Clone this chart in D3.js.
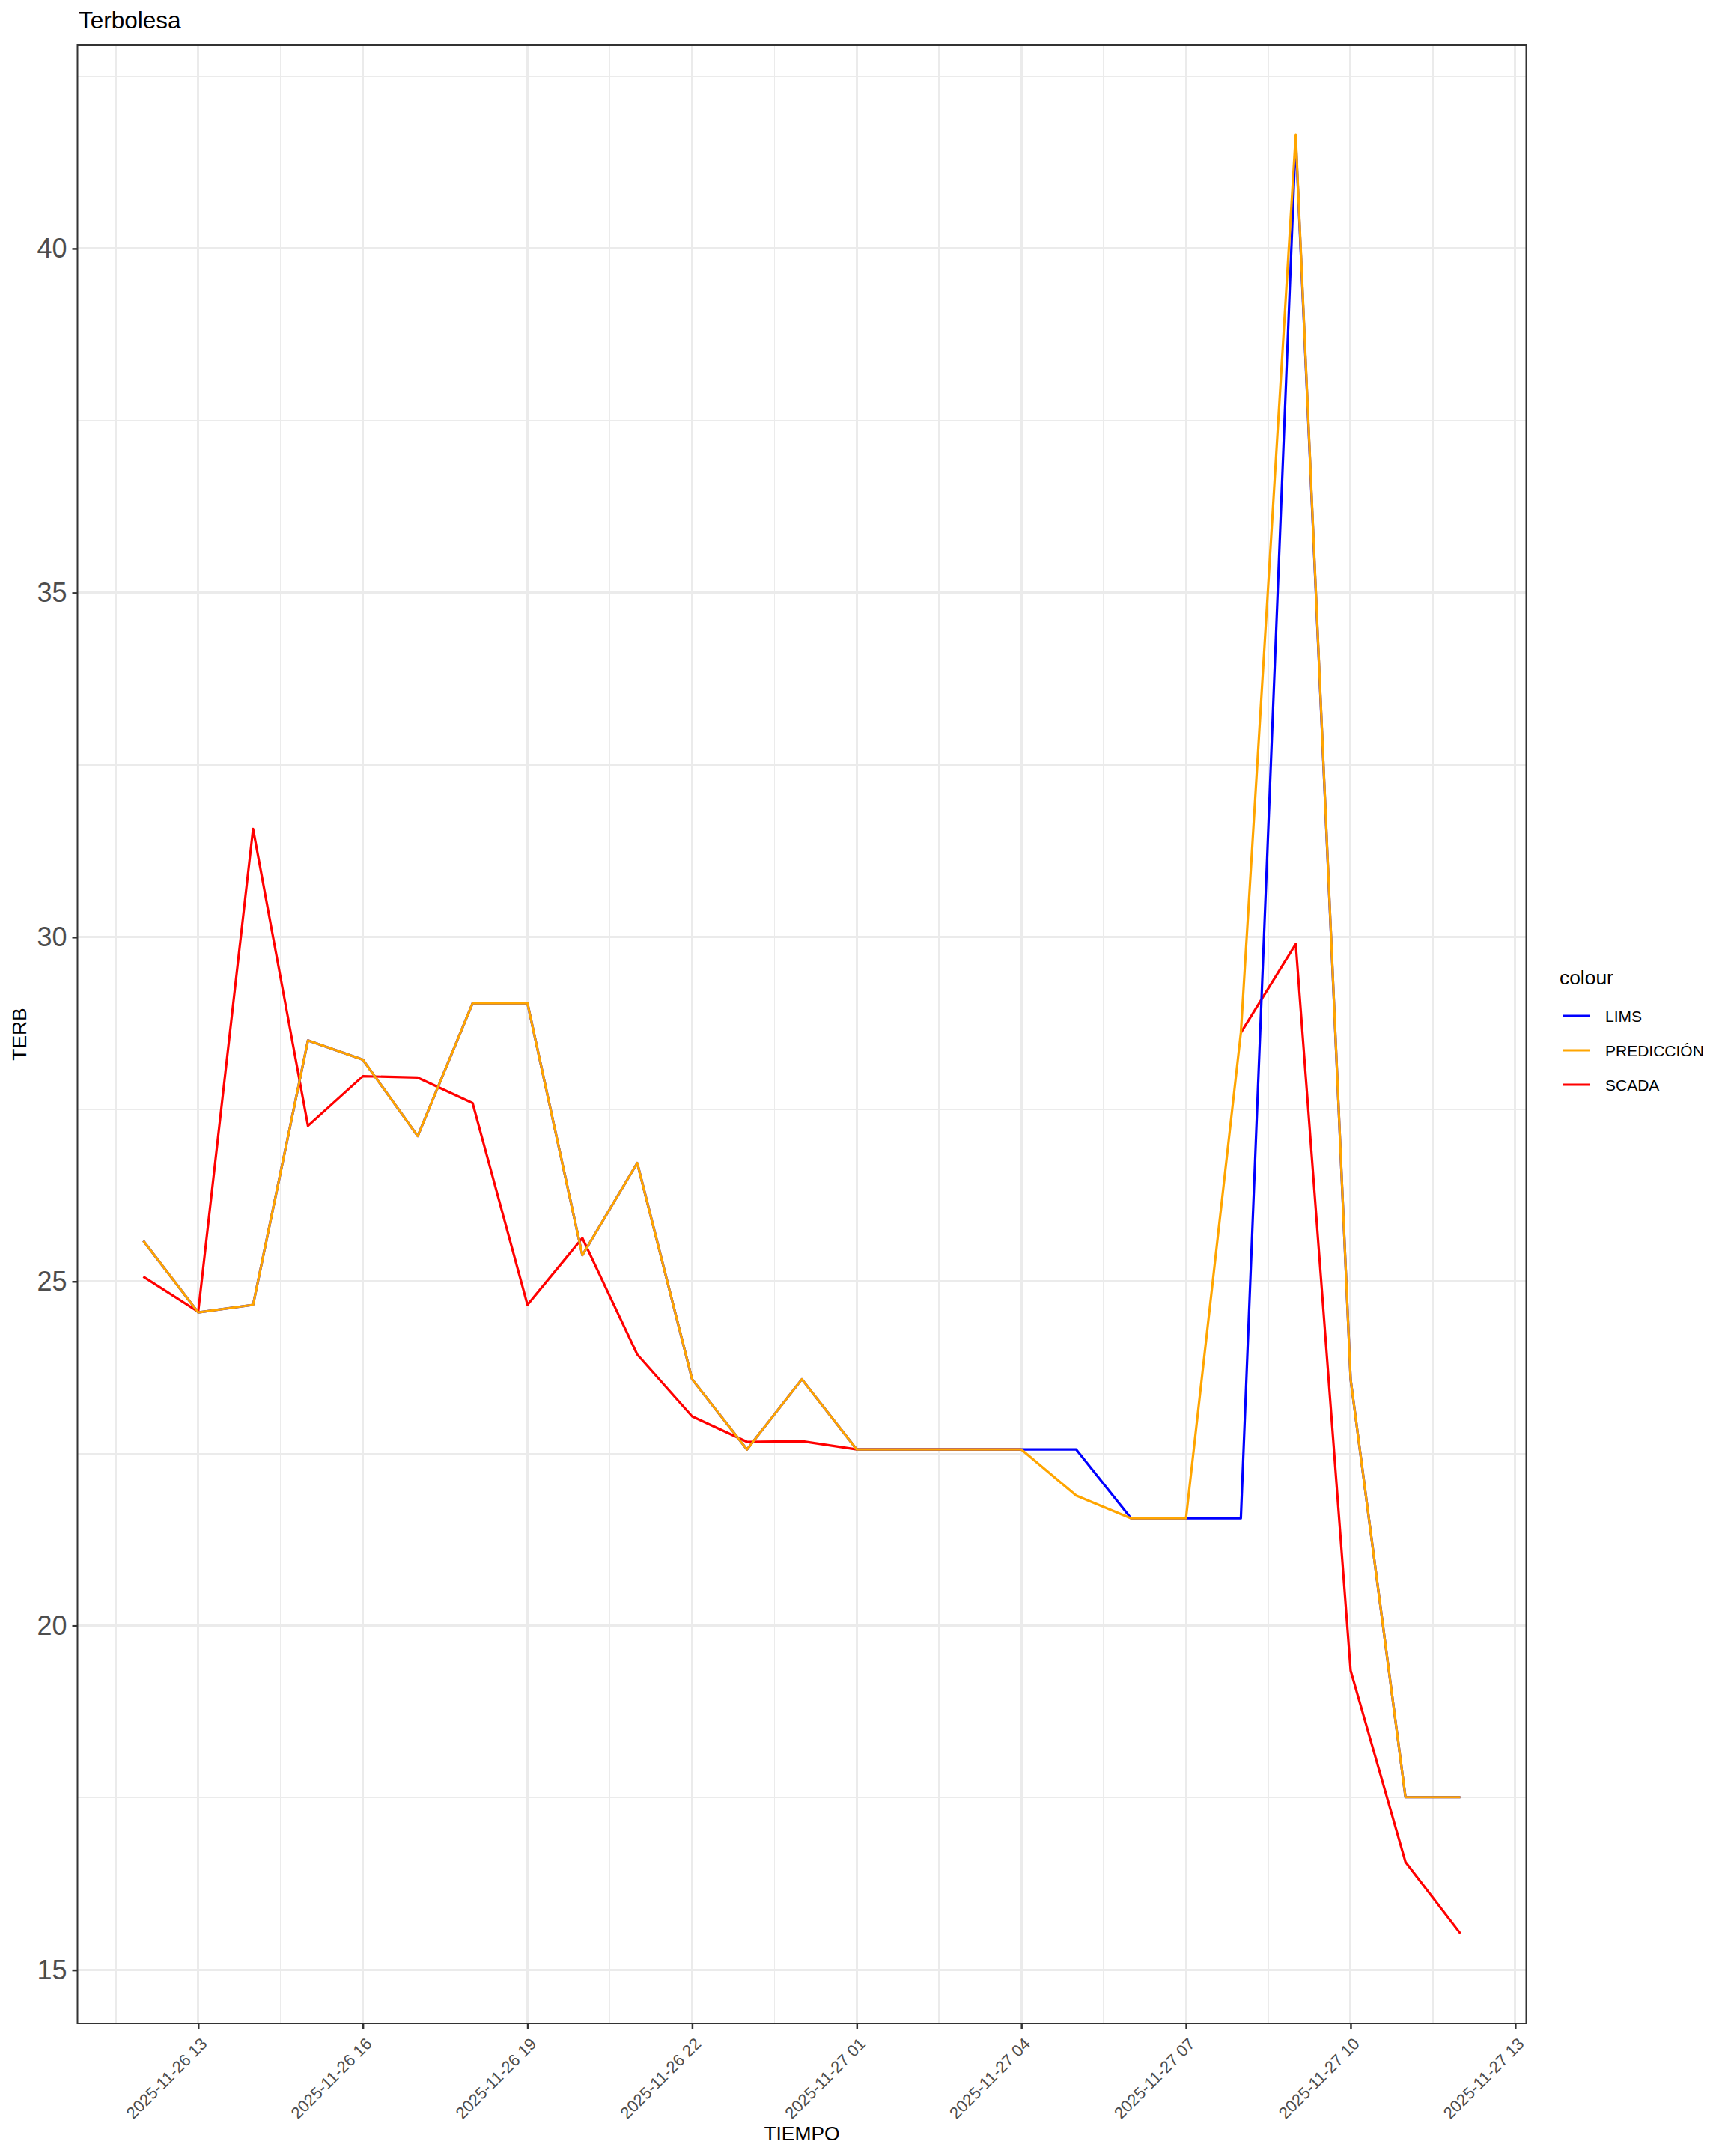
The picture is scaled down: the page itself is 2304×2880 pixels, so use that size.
<!DOCTYPE html>
<html>
<head>
  <title>Terbolesa</title>
  <style>
  body {
    margin: 0;
    background: #fff;
    font-family: "Liberation Sans", Arial, Helvetica, sans-serif;
  }

  .grid-major line {
    stroke: #ebebeb;
    stroke-width: 3;
    shape-rendering: crispedges;
  }

  .grid-minor line {
    stroke: #ebebeb;
    stroke-width: 1.6;
    shape-rendering: crispedges;
  }

  .axis .domain {
    display: none;
  }

  .axis .tick line {
    stroke: #333;
    stroke-width: 2.5;
  }

  .axis .tick text {
    fill: #4d4d4d;
  }

  .border {
    fill: none;
    stroke: #333;
    stroke-width: 2;
  }

  .series {
    fill: none;
    stroke-width: 3.2;
    stroke-linejoin: round;
  }
  </style>
  <script src="https://d3js.org/d3.v7.min.js"></script>
</head>
<body>
<div id="container"></div>
<script>
// hourly readings, 2025-11-26 12:00 -> 2025-11-27 12:00
var times = [
  "2025-11-26 12:00", "2025-11-26 13:00", "2025-11-26 14:00", "2025-11-26 15:00",
  "2025-11-26 16:00", "2025-11-26 17:00", "2025-11-26 18:00", "2025-11-26 19:00",
  "2025-11-26 20:00", "2025-11-26 21:00", "2025-11-26 22:00", "2025-11-26 23:00",
  "2025-11-27 00:00", "2025-11-27 01:00", "2025-11-27 02:00", "2025-11-27 03:00",
  "2025-11-27 04:00", "2025-11-27 05:00", "2025-11-27 06:00", "2025-11-27 07:00",
  "2025-11-27 08:00", "2025-11-27 09:00", "2025-11-27 10:00", "2025-11-27 11:00",
  "2025-11-27 12:00"
]

var scada = [25.07, 24.56, 31.57, 27.26, 27.98, 27.96, 27.59, 24.66, 25.63, 23.94, 23.04, 22.67,
             22.68, 22.56, 22.56, 22.56, 22.56, null, null, null, 28.61, 29.90, 19.35, 16.57, 15.53]

var lims = [25.59, 24.55, 24.66, 28.50, 28.22, 27.11, 29.04, 29.04, 25.38, 26.72, 23.58, 22.56,
            23.58, 22.56, 22.56, 22.56, 22.56, 22.56, 21.56, 21.56, 21.56, 41.60, 23.58, 17.51, 17.51]

var prediccion = [25.59, 24.55, 24.66, 28.50, 28.22, 27.11, 29.04, 29.04, 25.38, 26.72, 23.58, 22.56,
                  23.58, 22.56, 22.56, 22.56, 22.56, 21.89, 21.56, 21.56, 28.61, 41.65, 23.58, 17.51, 17.51]

var xTicks = ["2025-11-26 13", "2025-11-26 16", "2025-11-26 19", "2025-11-26 22", "2025-11-27 01",
              "2025-11-27 04", "2025-11-27 07", "2025-11-27 10", "2025-11-27 13"]
var yTicks = [15, 20, 25, 30, 35, 40]

var seriesNames = ["LIMS", "PREDICCIÓN", "SCADA"]
var seriesColors = { "LIMS": "blue", "PREDICCIÓN": "orange", "SCADA": "red" }

var W = 2304, H = 2880
var panel = { left: 103.5, right: 2038.5, top: 60, bottom: 2703 }

var parseT = d3.timeParse("%Y-%m-%d %H:%M"),
    parseTick = d3.timeParse("%Y-%m-%d %H"),
    fmtTick = d3.timeFormat("%Y-%m-%d %H")

var t = times.map(parseT)

function toPoints(vals) {
  return vals.map(function(v, i) { return { t: t[i], v: v } })
}

var data = {
  "SCADA": toPoints(scada),
  "LIMS": toPoints(lims),
  "PREDICCIÓN": toPoints(prediccion)
}

// ggplot-style 5% expansion
var tExt = d3.extent(t),
    tPad = (tExt[1] - tExt[0]) * 0.05,
    allV = scada.concat(lims, prediccion).filter(function(v) { return v != null }),
    vExt = d3.extent(allV),
    vPad = (vExt[1] - vExt[0]) * 0.05

var x = d3.scaleTime()
  .domain([new Date(+tExt[0] - tPad), new Date(+tExt[1] + tPad)])
  .range([panel.left, panel.right])

var y = d3.scaleLinear()
  .domain([vExt[0] - vPad, vExt[1] + vPad])
  .range([panel.bottom, panel.top])

var xMajor = xTicks.map(parseTick)
var xMinor = xMajor.map(function(d) { return new Date(+d - 1.5 * 3600e3) })
  .filter(function(d) { return d >= x.domain()[0] && d <= x.domain()[1] })
var yMinor = yTicks.map(function(d) { return d + 2.5 })
  .filter(function(d) { return d >= y.domain()[0] && d <= y.domain()[1] })

var svg = d3.select("#container").append("svg")
  .attr("width", W)
  .attr("height", H)

svg.append("rect").attr("width", W).attr("height", H).attr("fill", "#fff")

// grid
var gMinor = svg.append("g").attr("class", "grid-minor")
gMinor.selectAll(".gx").data(xMinor).enter().append("line")
  .attr("x1", function(d) { return x(d) }).attr("x2", function(d) { return x(d) })
  .attr("y1", panel.top).attr("y2", panel.bottom)
gMinor.selectAll(".gy").data(yMinor).enter().append("line")
  .attr("x1", panel.left).attr("x2", panel.right)
  .attr("y1", function(d) { return y(d) }).attr("y2", function(d) { return y(d) })

var gMajor = svg.append("g").attr("class", "grid-major")
gMajor.selectAll(".gx").data(xMajor).enter().append("line")
  .attr("x1", function(d) { return x(d) }).attr("x2", function(d) { return x(d) })
  .attr("y1", panel.top).attr("y2", panel.bottom)
gMajor.selectAll(".gy").data(yTicks).enter().append("line")
  .attr("x1", panel.left).attr("x2", panel.right)
  .attr("y1", function(d) { return y(d) }).attr("y2", function(d) { return y(d) })

// lines: scada underneath, then lims, prediction on top
var line = d3.line()
  .defined(function(d) { return d.v != null })
  .x(function(d) { return x(d.t) })
  .y(function(d) { return y(d.v) })

;["SCADA", "LIMS", "PREDICCIÓN"].forEach(function(name) {
  svg.append("path")
    .attr("class", "series")
    .attr("stroke", seriesColors[name])
    .attr("d", line(data[name]))
})

svg.append("rect")
  .attr("class", "border")
  .attr("x", panel.left).attr("y", panel.top)
  .attr("width", panel.right - panel.left)
  .attr("height", panel.bottom - panel.top)

// axes
var yAxis = svg.append("g")
  .attr("class", "axis")
  .attr("transform", "translate(" + panel.left + ",0)")
  .call(d3.axisLeft(y).tickValues(yTicks).tickSize(7).tickPadding(7).tickFormat(d3.format("d")))
yAxis.selectAll(".tick text")
  .style("font-size", "36px")

var xAxis = svg.append("g")
  .attr("class", "axis")
  .attr("transform", "translate(0," + panel.bottom + ")")
  .call(d3.axisBottom(x).tickValues(xMajor).tickSize(8).tickFormat(fmtTick))
xAxis.selectAll(".tick text")
  .style("font-size", "22px")
  .attr("text-anchor", "end")
  .attr("x", 0).attr("y", 0).attr("dy", "0.75em")
  .attr("transform", "translate(1,17) rotate(-45)")

// titles
svg.append("text")
  .attr("x", 105).attr("y", 38)
  .style("font-size", "31.5px")
  .text("Terbolesa")

svg.append("text")
  .attr("x", (panel.left + panel.right) / 2).attr("y", 2859)
  .attr("text-anchor", "middle")
  .style("font-size", "26.4px")
  .text("TIEMPO")

svg.append("text")
  .attr("transform", "translate(35," + ((panel.top + panel.bottom) / 2) + ") rotate(-90)")
  .attr("text-anchor", "middle")
  .style("font-size", "26.4px")
  .text("TERB")

// legend
var legend = svg.append("g").attr("transform", "translate(2083,1315)")
legend.append("text")
  .style("font-size", "26.4px")
  .text("colour")

var item = legend.selectAll(".key")
  .data(seriesNames)
.enter().append("g")
  .attr("class", "key")
  .attr("transform", function(d, i) { return "translate(0," + (42 + i * 46) + ")" })

item.append("line")
  .attr("x1", 4).attr("x2", 41)
  .attr("y1", 0).attr("y2", 0)
  .attr("stroke", function(d) { return seriesColors[d] })
  .attr("stroke-width", 3.2)

item.append("text")
  .attr("x", 61).attr("y", 7.5)
  .style("font-size", "21px")
  .text(function(d) { return d })
</script>
</body>
</html>
